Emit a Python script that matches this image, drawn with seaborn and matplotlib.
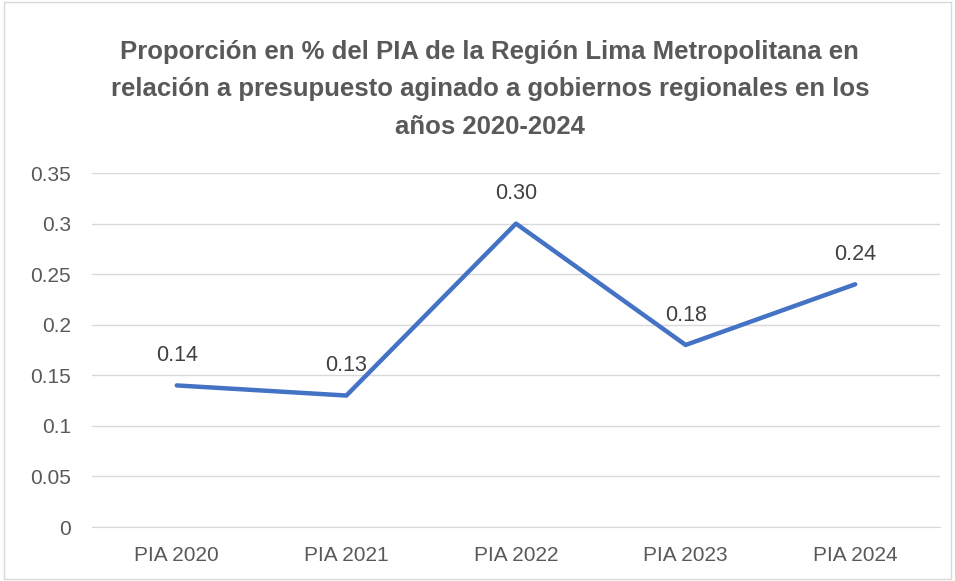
import matplotlib
matplotlib.use("Agg")
import matplotlib.pyplot as plt
import pandas as pd
import seaborn as sns

# Datos del gráfico
categorias = ["PIA 2020", "PIA 2021", "PIA 2022", "PIA 2023", "PIA 2024"]
proporcion = [0.14, 0.13, 0.30, 0.18, 0.24]
yticks = [0, 0.05, 0.1, 0.15, 0.2, 0.25, 0.3, 0.35]
ytick_labels = ["0", "0.05", "0.1", "0.15", "0.2", "0.25", "0.3", "0.35"]

TITULO = ("Proporción en % del PIA de la Región Lima Metropolitana en\n"
          "relación a presupuesto aginado a gobiernos regionales en los\n"
          "años 2020-2024")

GRIS = "#595959"
AZUL = "#4472C4"

sns.set_style("white")
plt.rcParams["font.family"] = ["Liberation Sans", "DejaVu Sans"]

df = pd.DataFrame({"categoria": categorias, "valor": proporcion})

fig = plt.figure(figsize=(9.55, 5.81), dpi=100)
ax = fig.add_axes([0.0963, 0.0929, 0.888, 0.6093])

sns.lineplot(data=df, x="categoria", y="valor", color=AZUL, linewidth=3.2,
             sort=False, ax=ax)

# Etiquetas de datos sobre cada punto
for i, v in enumerate(proporcion):
    ax.annotate(f"{v:.2f}", (i, v), xytext=(0, 14), textcoords="offset points",
                ha="center", va="bottom", fontsize=15.5, color="#404040")

ax.set_xlim(-0.5, len(categorias) - 0.5)
ax.set_ylim(0, 0.35)
ax.set_yticks(yticks)
ax.set_yticklabels(ytick_labels)
ax.yaxis.grid(True, color="#D9D9D9", linewidth=1)
ax.set_axisbelow(True)
ax.tick_params(axis="y", length=0, labelsize=15, labelcolor=GRIS, pad=15)
ax.tick_params(axis="x", length=0, labelsize=15, labelcolor=GRIS, pad=14)
ax.set_xlabel("")
ax.set_ylabel("")
for lado in ["left", "right", "top"]:
    ax.spines[lado].set_visible(False)
ax.spines["bottom"].set_color("#D9D9D9")

fig.text(0.513, 0.932, TITULO, ha="center", va="top", fontsize=18.5,
         fontweight="bold", color=GRIS, linespacing=1.72)

# Borde exterior del gráfico
fig.patches.append(plt.Rectangle((0.004, 0.004), 0.992, 0.992, transform=fig.transFigure,
                                 fill=False, edgecolor="#D9D9D9", linewidth=1))

fig.savefig("out.png", dpi=100)
plt.close(fig)
